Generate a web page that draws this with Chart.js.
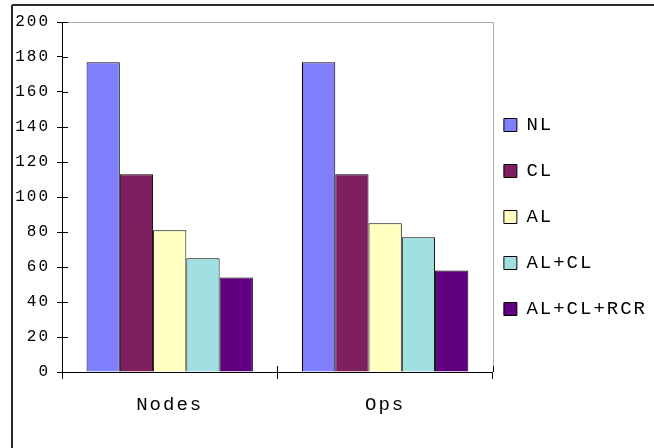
<!DOCTYPE html>
<html>
<head>
<meta charset="utf-8">
<script src="https://cdn.jsdelivr.net/npm/chart.js@4.4.1/dist/chart.umd.min.js"></script>
<style>
  html, body { margin: 0; padding: 0; background: #ffffff; }
  #wrap { width: 654px; height: 448px; }
</style>
</head>
<body>
<div id="wrap"><canvas id="chart" width="654" height="448"></canvas></div>
<script>
// Categories and series values
const categories = ['Nodes', 'Ops'];
const seriesNames = ['NL', 'CL', 'AL', 'AL+CL', 'AL+CL+RCR'];
const valuesNL = [177, 177];
const valuesCL = [113, 113];
const valuesAL = [81, 85];
const valuesALCL = [65, 77];
const valuesALCLRCR = [54, 58];
// Y axis range and tick step
const yMin = 0;
const yMax = 200;
const yStep = 20;

const seriesValues = [valuesNL, valuesCL, valuesAL, valuesALCL, valuesALCLRCR];
const seriesColors = ['#8080ff', '#7f1f5f', '#ffffc0', '#a0e0e0', '#600080'];

const FONT = "'Liberation Mono', 'Courier New', monospace";
const SPACING = '2px';

// Wide monospace look: extra letter spacing on every canvas text call
const spacingPlugin = {
  id: 'spacing',
  afterInit(chart) { chart.ctx.letterSpacing = SPACING; },
  beforeUpdate(chart) { chart.ctx.letterSpacing = SPACING; },
  beforeDraw(chart) { chart.ctx.letterSpacing = SPACING; }
};

// Outer frame, plot frame and ticks crossing into the plot
const framePlugin = {
  id: 'frame',
  afterDraw(chart) {
    const ctx = chart.ctx;
    const area = chart.chartArea;
    const x = chart.scales.x;
    const y = chart.scales.y;
    ctx.save();
    // outer frame (top and left edges)
    ctx.strokeStyle = '#2b2b2b';
    ctx.lineWidth = 2;
    ctx.beginPath();
    ctx.moveTo(12, 5);
    ctx.lineTo(chart.width, 5);
    ctx.moveTo(12, 5);
    ctx.lineTo(12, chart.height);
    ctx.stroke();
    // plot frame top and right
    ctx.strokeStyle = '#a8a8a8';
    ctx.lineWidth = 1;
    ctx.beginPath();
    ctx.moveTo(area.left, Math.round(area.top) + 0.5);
    ctx.lineTo(area.right + 0.5, Math.round(area.top) + 0.5);
    ctx.moveTo(Math.round(area.right) + 0.5, area.top);
    ctx.lineTo(Math.round(area.right) + 0.5, area.bottom);
    ctx.stroke();
    // inner halves of the tick marks
    ctx.strokeStyle = '#000000';
    ctx.beginPath();
    y.ticks.forEach((t, i) => {
      const py = Math.round(y.getPixelForTick(i)) + 0.5;
      ctx.moveTo(area.left, py);
      ctx.lineTo(area.left + 6, py);
    });
    for (let i = 0; i <= categories.length; i++) {
      const px = Math.round(x.getPixelForValue(i - 0.5)) + 0.5;
      ctx.moveTo(px, area.bottom);
      ctx.lineTo(px, area.bottom - 6);
    }
    ctx.stroke();
    ctx.restore();
  }
};

const datasets = seriesNames.map((name, i) => ({
  label: name,
  data: seriesValues[i],
  backgroundColor: seriesColors[i],
  borderColor: '#000000',
  borderWidth: 1,
  borderSkipped: 'bottom',
  categoryPercentage: 0.772,
  barPercentage: 1.0
}));

new Chart(document.getElementById('chart'), {
  type: 'bar',
  data: { labels: categories, datasets: datasets },
  plugins: [spacingPlugin, framePlugin],
  options: {
    responsive: false,
    animation: false,
    devicePixelRatio: 1,
    layout: { padding: { top: 22, right: -3, bottom: 20, left: 0 } },
    plugins: {
      tooltip: { enabled: false },
      title: { display: false },
      legend: {
        position: 'right',
        align: 'center',
        labels: {
          color: '#000000',
          font: { family: FONT, size: 19, lineHeight: '35px' },
          boxWidth: 13,
          boxHeight: 13,
          padding: 11,
          generateLabels(chart) {
            const items = Chart.defaults.plugins.legend.labels.generateLabels(chart);
            return items.map(it => Object.assign(it, { text: [it.text], lineWidth: 1 }));
          }
        }
      }
    },
    scales: {
      x: {
        afterFit(scale) { scale.height = 56; },
        grid: { display: true, drawOnChartArea: false, offset: true, tickLength: 7, color: '#000000' },
        border: { display: true, color: '#000000', width: 1 },
        ticks: { color: '#000000', font: { family: FONT, size: 19 }, padding: 15, maxRotation: 0 }
      },
      y: {
        min: yMin,
        max: yMax,
        afterFit(scale) { scale.width = 62; },
        grid: { display: true, drawOnChartArea: false, tickLength: 5, color: '#000000' },
        border: { display: true, color: '#000000', width: 1 },
        ticks: { stepSize: yStep, color: '#000000', font: { family: FONT, size: 16 }, padding: 7 }
      }
    }
  }
});
</script>
</body>
</html>
